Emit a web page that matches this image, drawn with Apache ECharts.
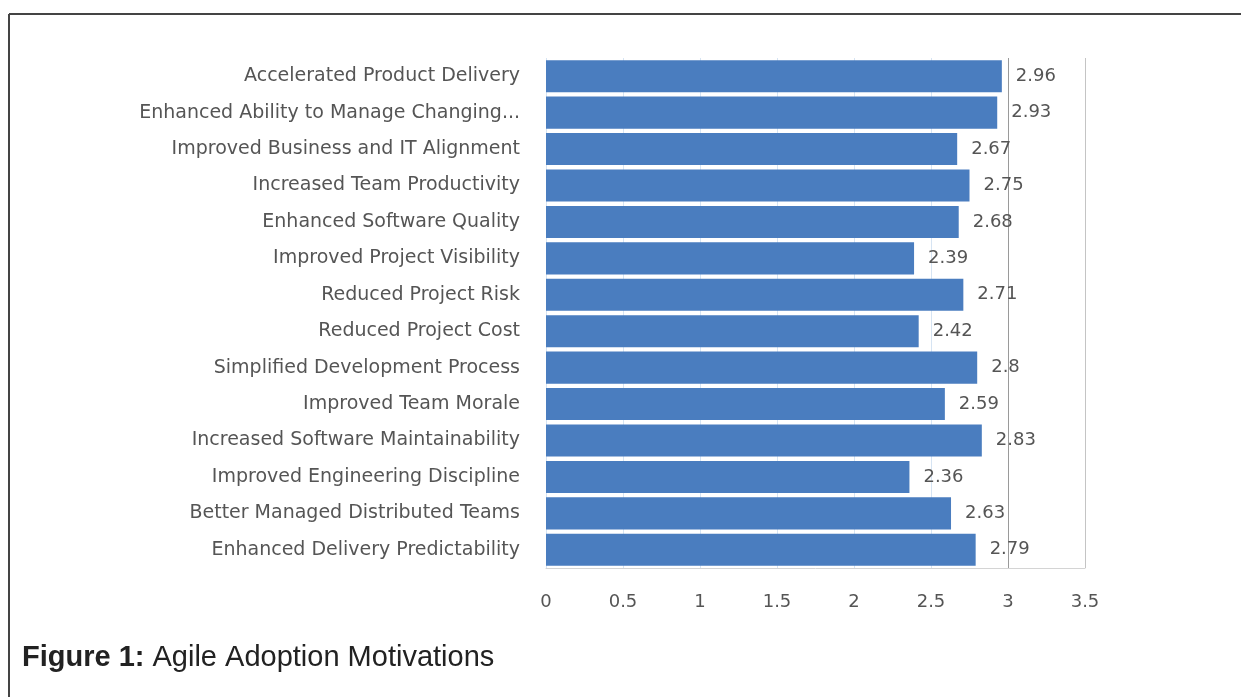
<!DOCTYPE html>
<html>
<head>
<meta charset="utf-8">
<script src="https://cdn.jsdelivr.net/npm/echarts@6/dist/echarts.min.js"></script>
<style>
  html, body { margin: 0; padding: 0; background: #fff; }
  #chart { width: 1241px; height: 697px; }
</style>
</head>
<body>
<div id="chart"></div>
<script>
// Survey: motivations for adopting agile, average rating per item
const categories = [
  'Accelerated Product Delivery',
  'Enhanced Ability to Manage Changing...',
  'Improved Business and IT Alignment',
  'Increased Team Productivity',
  'Enhanced Software Quality',
  'Improved Project Visibility',
  'Reduced Project Risk',
  'Reduced Project Cost',
  'Simplified Development Process',
  'Improved Team Morale',
  'Increased Software Maintainability',
  'Improved Engineering Discipline',
  'Better Managed Distributed Teams',
  'Enhanced Delivery Predictability'
];
const ratings = [2.96, 2.93, 2.67, 2.75, 2.68, 2.39, 2.71, 2.42, 2.8, 2.59, 2.83, 2.36, 2.63, 2.79];
const axisMin = 0;
const axisMax = 3.5;
const axisStep = 0.5;
const captionBold = 'Figure 1:';
const captionText = ' Agile Adoption Motivations';

const chart = echarts.init(document.getElementById('chart'));
const labelFont = 'DejaVu Sans';

// one colour per vertical grid line, 0 .. 3.5
const gridColors = ['#d6e4f3', '#d6e4f3', '#d6e4f3', '#d6e4f3', '#d6e4f3', '#d6e4f3', '#9a9a9a', '#c4c4c4'];

chart.setOption({
  animation: false,
  backgroundColor: '#ffffff',
  grid: { left: 546, right: 156, top: 58, bottom: 129, containLabel: false },
  xAxis: {
    type: 'value',
    min: axisMin,
    max: axisMax,
    interval: axisStep,
    axisLine: { show: true, lineStyle: { color: '#d4d4d4', width: 1 } },
    axisTick: { show: false },
    axisLabel: {
      margin: 25,
      color: '#555',
      fontFamily: labelFont,
      fontSize: 18,
      formatter: v => String(v)
    },
    splitLine: { show: true, lineStyle: { color: gridColors, width: 1 } }
  },
  yAxis: {
    type: 'category',
    inverse: true,
    data: categories,
    axisLine: { show: false },
    axisTick: { show: false },
    axisLabel: {
      margin: 26,
      color: '#555',
      fontFamily: labelFont,
      fontSize: 19
    }
  },
  series: [{
    type: 'bar',
    data: ratings,
    barCategoryGap: '12%',
    itemStyle: { color: '#4a7dbf' },
    label: {
      show: true,
      position: 'right',
      distance: 14,
      color: '#555',
      fontFamily: labelFont,
      fontSize: 18
    }
  }],
  graphic: [
    { type: 'line', shape: { x1: 9, y1: 14, x2: 1241, y2: 14 }, style: { stroke: '#444', lineWidth: 2 } },
    { type: 'line', shape: { x1: 9, y1: 14, x2: 9, y2: 697 }, style: { stroke: '#444', lineWidth: 2 } },
    {
      type: 'text',
      left: 22,
      top: 643,
      style: {
        text: '{b|' + captionBold + '}{r|' + captionText + '}',
        rich: {
          b: { fontFamily: 'Liberation Sans', fontWeight: 'bold', fontSize: 29, fill: '#222' },
          r: { fontFamily: 'Liberation Sans', fontSize: 29, fill: '#222' }
        }
      }
    }
  ]
});
</script>
</body>
</html>
